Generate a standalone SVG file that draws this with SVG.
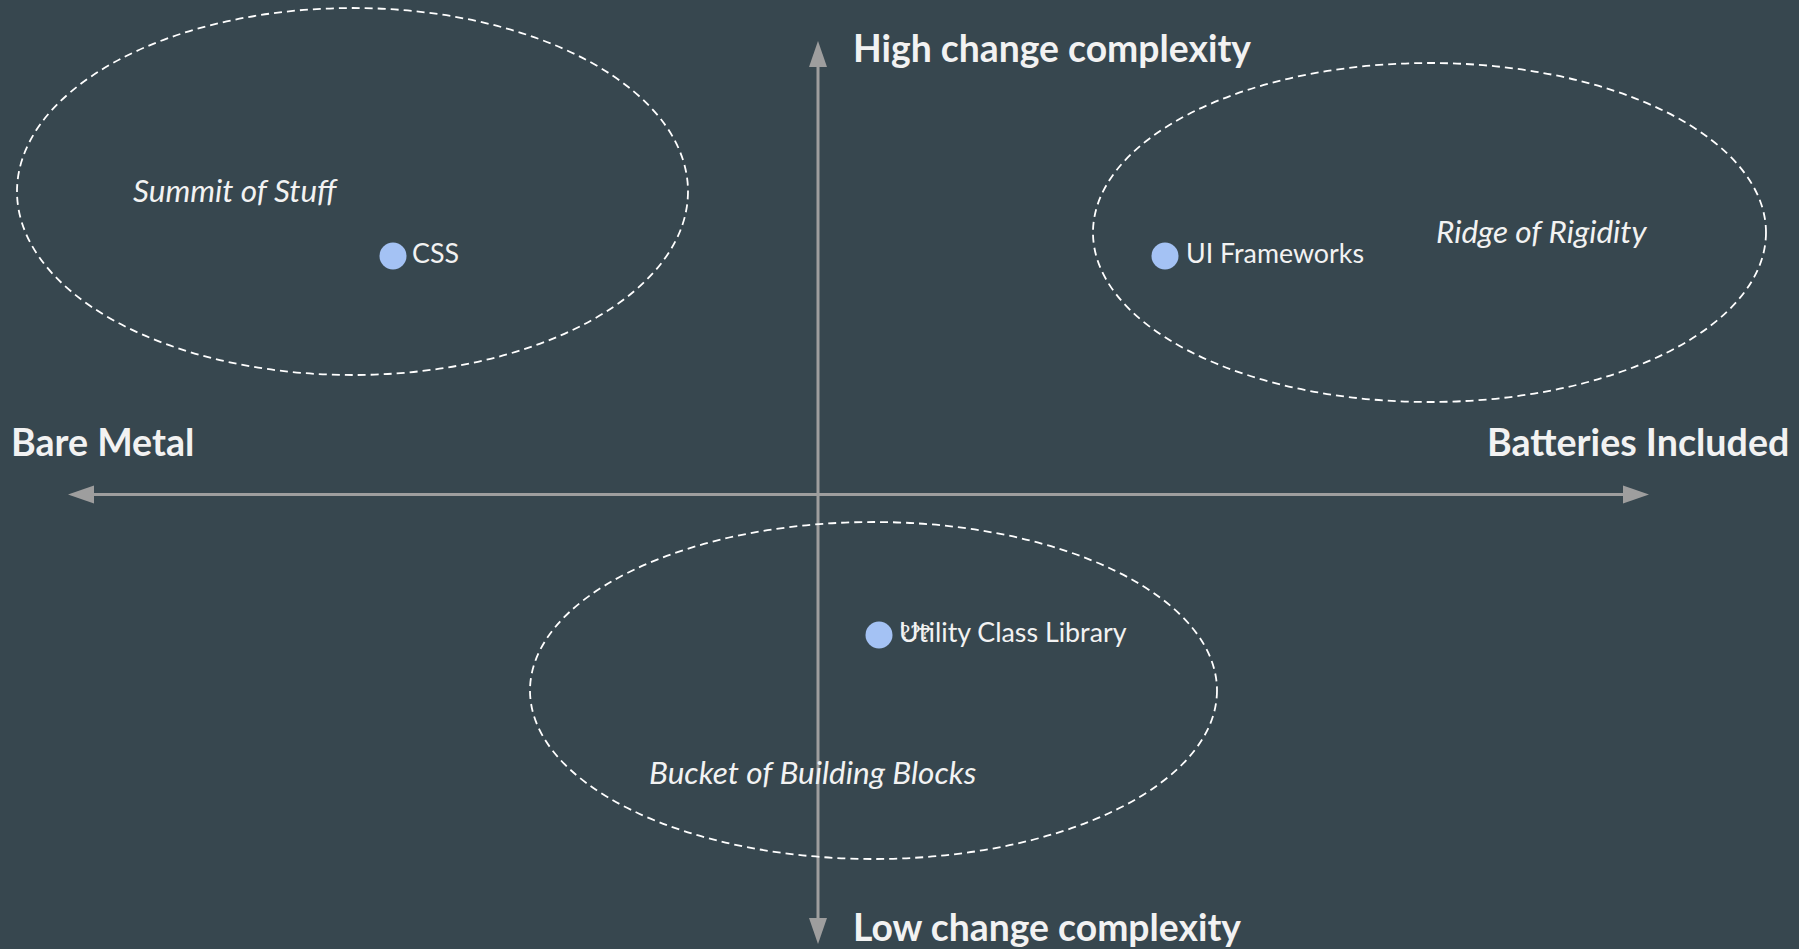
<svg xmlns="http://www.w3.org/2000/svg" width="1799" height="949" viewBox="0 0 1799 949">
<defs>
<style>
.bg{fill:#37474f}
.region{fill:none;stroke:#ffffff;stroke-width:1.8;stroke-dasharray:8 5}
.axis{stroke:#9e9e9e;stroke-width:3;fill:none}
.ah{fill:#9e9e9e}
.axlbl{font-family:Lato,"Liberation Sans",sans-serif;font-weight:bold;font-size:37.6px;fill:#f2f2f2}
.vlbl{font-size:37.3px}
.rlbl{font-family:Lato,"Liberation Sans",sans-serif;font-style:italic;font-size:31.5px;fill:#f2f2f2}
.plbl{font-family:Lato,"Liberation Sans",sans-serif;font-size:26.8px;fill:#f2f2f2}
.dot{fill:#a4c2f4}
.q{font-family:"DejaVu Serif",serif;font-size:19px;fill:#f2f2f2}
</style>
</defs>
<rect class="bg" x="0" y="0" width="1799" height="949"/>
<g id="connectors">
<line class="axis" x1="90" y1="494.5" x2="1625" y2="494.5"/>
<polygon class="ah" points="68,494.5 94,485.5 94,503.5"/>
<polygon class="ah" points="1649,494.5 1623,485.5 1623,503.5"/>
<line class="axis" x1="818" y1="64" x2="818" y2="921"/>
<polygon class="ah" points="818,41 809,67 827,67"/>
<polygon class="ah" points="818,944 809,918 827,918"/>
</g>
<g id="region-summit">
<ellipse class="region" cx="352.5" cy="191.5" rx="335.5" ry="183.5"/>
<text class="rlbl" x="133" y="202">Summit of Stuff</text>
</g>
<g id="region-ridge">
<ellipse class="region" cx="1429.5" cy="232.5" rx="336.5" ry="169.5"/>
<text class="rlbl" x="1436" y="243">Ridge of Rigidity</text>
</g>
<g id="region-bucket">
<ellipse class="region" cx="873.5" cy="690.5" rx="343.5" ry="168.5"/>
<text class="rlbl" x="649" y="784">Bucket of Building Blocks</text>
</g>
<g id="axis-labels">
<text class="axlbl vlbl" x="853" y="62">High change complexity</text>
<text class="axlbl vlbl" x="853" y="941">Low change complexity</text>
<text class="axlbl" x="11" y="456">Bare Metal</text>
<text class="axlbl" x="1487" y="456">Batteries Included</text>
</g>
<g id="node-css">
<circle class="dot" cx="393" cy="256" r="13.5"/>
<text class="plbl" x="412" y="263">CSS</text>
</g>
<g id="node-ui">
<circle class="dot" cx="1165" cy="256" r="13.5"/>
<text class="plbl" x="1186" y="263">UI Frameworks</text>
</g>
<g id="node-utility">
<circle class="dot" cx="879" cy="635" r="13.5"/>
<text class="plbl" x="899" y="642">Utility Class Library</text>
<text class="q" x="900" y="639">???</text>
</g>
</svg>
